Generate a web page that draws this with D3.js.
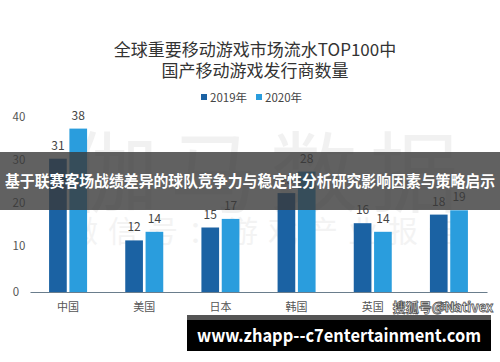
<!DOCTYPE html>
<html><head><meta charset="utf-8">
<script src="https://cdn.jsdelivr.net/npm/d3@7"></script>
<style>body{margin:0;background:#fff}svg{display:block}text{font-family:"Noto Sans CJK SC","Noto Sans",sans-serif}</style>
</head><body><svg id="c" width="500" height="362"></svg>
<script>
const categories = ["中国","美国","日本","韩国","英国","其他"];
const series = ["2019年","2020年"];
const values2019 = [31,12,15,23,16,18];
const values2020 = [38,14,17,28,14,19];
const yTicks = [0,10,20,30,40];
const colors = ["#1b62a3","#2a9ddd"];

const svg = d3.select("#c");
const x = d3.scaleBand().domain(categories).range([30,487]);
const xs = d3.scaleBand().domain(series).range([0,38]).paddingInner(0.13);
const y = d3.scaleLinear().domain([0,40]).range([292,120]);

// watermark
svg.append("text").attr("x",270).attr("y",205).attr("text-anchor","middle")
  .attr("font-size",88).attr("fill","#000").attr("opacity",0.05).attr("letter-spacing",12).text("伽马数据");
svg.append("text").attr("x",268).attr("y",242).attr("text-anchor","middle")
  .attr("font-size",30).attr("fill","#000").attr("opacity",0.045).attr("letter-spacing",10).text("微信号：游戏产业报告");

// title
svg.append("text").attr("x",255).attr("y",56).attr("text-anchor","middle").attr("font-size",17).attr("fill","#333").text("全球重要移动游戏市场流水TOP100中");
svg.append("text").attr("x",255).attr("y",77).attr("text-anchor","middle").attr("font-size",17).attr("fill","#333").text("国产移动游戏发行商数量");

// legend
const lg = svg.append("g").attr("transform","translate(201,97)");
series.forEach((s,i)=>{
  const g = lg.append("g").attr("transform",`translate(${i*55},0)`);
  g.append("rect").attr("x",0).attr("y",-3).attr("width",6).attr("height",6).attr("fill",colors[i]);
  g.append("text").attr("x",9).attr("y",4.5).attr("font-size",11.5).attr("fill","#444").text(s);
});

// y labels
svg.append("g").selectAll("text").data(yTicks).join("text")
  .attr("x",d=>d===0?16:19).attr("y",d=>(d===0?y(d):y(d)-3)+4).attr("text-anchor","middle")
  .attr("font-size",11.5).attr("fill","#555").text(d=>d);

// bars
const data = [values2019, values2020];
categories.forEach((c,ci)=>{
  series.forEach((s,si)=>{
    const v = data[si][ci];
    const bx = x(c) + (x.bandwidth()-38)/2 + xs(s);
    svg.append("rect").attr("x",bx).attr("y",y(v)).attr("width",xs.bandwidth()).attr("height",y(0)-y(v)).attr("fill",colors[si]);
    svg.append("text").attr("x",bx+xs.bandwidth()/2).attr("y",y(v)-9).attr("text-anchor","middle")
      .attr("font-size",12).attr("fill","#444").text(v);
  });
});

// axis
const xAxis = d3.axisBottom(x).tickSize(0).tickPadding(11);
const ax = svg.append("g").attr("transform","translate(0,292)").call(xAxis);
ax.select(".domain").attr("stroke","#6a7d8c").attr("stroke-width",1.2);
ax.selectAll("text").attr("font-size",11).attr("fill","#555").attr("font-family","'Noto Sans CJK SC',sans-serif");

// source watermark
svg.append("text").attr("x",443).attr("y",312).attr("text-anchor","middle").attr("font-size",13).attr("font-weight","bold")
  .attr("fill","#fff").attr("stroke","#555").attr("stroke-width",0.8).text("搜狐号@Nativex");

// overlay banner
svg.append("rect").attr("x",0).attr("y",152).attr("width",500).attr("height",58).attr("fill","#3a3a3a").attr("opacity",0.8);
svg.append("text").attr("x",250).attr("y",187).attr("text-anchor","middle").attr("font-size",15.5).attr("font-weight","bold")
  .attr("fill","#fff").attr("textLength",490).attr("lengthAdjust","spacingAndGlyphs")
  .text("基于联赛客场战绩差异的球队竞争力与稳定性分析研究影响因素与策略启示");

// bottom url box
svg.append("rect").attr("x",187).attr("y",315).attr("width",304).attr("height",6).attr("fill","#555");
svg.append("rect").attr("x",187).attr("y",320).attr("width",304).attr("height",31).attr("fill","#000");
svg.append("text").attr("x",339).attr("y",342).attr("text-anchor","middle").attr("font-size",18).attr("font-weight","bold")
  .attr("fill","#fff").attr("textLength",284).attr("lengthAdjust","spacingAndGlyphs")
  .attr("font-family","'Open Sans','DejaVu Sans',sans-serif").text("www.zhapp--c7entertainment.com");
</script></body></html>
